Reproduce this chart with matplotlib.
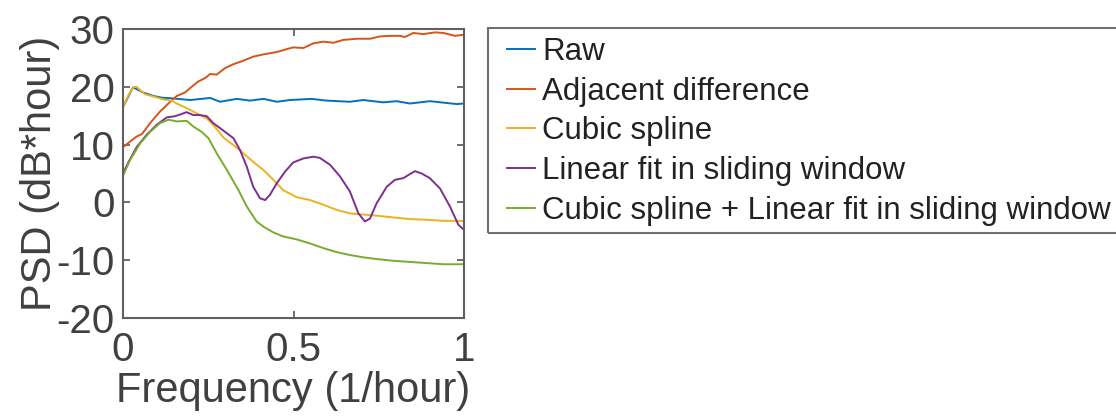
import numpy as np
import matplotlib.pyplot as plt
from matplotlib.patches import Rectangle

plt.rcParams['font.family'] = ['Liberation Sans', 'DejaVu Sans']
plt.rcParams['axes.unicode_minus'] = False

# PSD curves, frequency in 1/hour, PSD in dB*hour
raw_f = [0.0, 0.03, 0.06, 0.09, 0.115, 0.143, 0.197, 0.256, 0.285, 0.334, 0.373, 0.412,
         0.451, 0.490, 0.553, 0.597, 0.665, 0.704, 0.763, 0.802, 0.841, 0.90, 0.978, 1.0]
raw_psd = [16.4, 19.9, 19.0, 18.4, 18.1, 18.0, 17.7, 18.06, 17.4, 17.9, 17.6, 17.9,
           17.4, 17.7, 17.9, 17.6, 17.4, 17.7, 17.3, 17.5, 17.1, 17.5, 17.0, 17.1]

adj_f = [0.0, 0.021, 0.041, 0.056, 0.080, 0.109, 0.139, 0.158, 0.182, 0.202, 0.221, 0.241,
         0.256, 0.275, 0.299, 0.324, 0.353, 0.382, 0.412, 0.451, 0.480, 0.499, 0.529,
         0.558, 0.587, 0.617, 0.646, 0.685, 0.724, 0.753, 0.782, 0.812, 0.826, 0.851,
         0.880, 0.914, 0.939, 0.973, 1.0]
adj_psd = [9.5, 10.5, 11.4, 11.8, 13.7, 15.7, 17.4, 18.4, 19.0, 20.0, 20.9, 21.5,
           22.2, 22.1, 23.2, 23.9, 24.5, 25.2, 25.6, 26.0, 26.5, 26.8, 26.7,
           27.5, 27.8, 27.6, 28.1, 28.3, 28.3, 28.7, 28.8, 28.8, 28.6, 29.3,
           29.1, 29.4, 29.3, 28.8, 29.0]

spline_f = [0.0, 0.017, 0.031, 0.041, 0.051, 0.065, 0.090, 0.119, 0.143, 0.158, 0.187,
            0.217, 0.246, 0.265, 0.295, 0.324, 0.353, 0.382, 0.412, 0.441, 0.470, 0.509,
            0.548, 0.587, 0.626, 0.665, 0.704, 0.743, 0.792, 0.841, 0.890, 0.939, 1.0]
spline_psd = [16.4, 18.6, 19.9, 20.0, 19.4, 18.7, 18.3, 17.8, 17.6, 17.1, 16.3,
              15.4, 14.5, 13.4, 11.2, 9.9, 8.5, 7.0, 5.6, 3.9, 2.1, 0.9,
              0.4, -0.4, -1.3, -1.9, -2.1, -2.3, -2.6, -2.9, -3.0, -3.2, -3.2]

linfit_f = [0.0, 0.017, 0.041, 0.070, 0.099, 0.129, 0.153, 0.168, 0.187, 0.207, 0.226,
            0.246, 0.265, 0.295, 0.324, 0.343, 0.363, 0.382, 0.402, 0.417, 0.431, 0.451,
            0.475, 0.499, 0.529, 0.558, 0.577, 0.607, 0.636, 0.665, 0.690, 0.709, 0.724,
            0.743, 0.773, 0.797, 0.822, 0.841, 0.856, 0.875, 0.899, 0.929, 0.958, 0.983, 1.0]
linfit_psd = [4.9, 7.0, 9.6, 11.7, 13.4, 14.7, 14.9, 15.2, 15.6, 15.1, 15.1,
              14.9, 13.7, 12.4, 11.1, 9.1, 6.2, 2.7, 0.7, 0.4, 1.3, 3.3,
              5.3, 6.9, 7.6, 7.9, 7.7, 6.5, 4.5, 1.9, -1.9, -3.3, -2.8,
              -0.2, 2.7, 3.9, 4.2, 4.9, 5.4, 5.0, 4.2, 2.4, -0.7, -3.9, -4.8]

combo_f = [0.0, 0.021, 0.051, 0.080, 0.109, 0.134, 0.158, 0.187, 0.207, 0.231, 0.251,
           0.275, 0.305, 0.339, 0.363, 0.392, 0.412, 0.441, 0.470, 0.509, 0.548, 0.587,
           0.626, 0.665, 0.704, 0.743, 0.792, 0.841, 0.890, 0.939, 1.0]
combo_psd = [4.5, 7.3, 10.2, 12.2, 13.7, 14.3, 14.0, 14.1, 13.1, 12.2, 11.1,
             8.5, 5.6, 2.1, -0.7, -3.3, -4.2, -5.2, -5.9, -6.4, -7.1, -7.9,
             -8.6, -9.1, -9.5, -9.8, -10.1, -10.3, -10.5, -10.7, -10.7]

labels = ['Raw', 'Adjacent difference', 'Cubic spline', 'Linear fit in sliding window',
          'Cubic spline + Linear fit in sliding window']
colors = ['#0072BD', '#D95319', '#EDB120', '#7E2F8E', '#77AC30']

W, H = 1116, 419
fig = plt.figure(figsize=(W / 100, H / 100), dpi=100)
ax = fig.add_axes([0.110, 0.241, 0.306, 0.690])

series = [(raw_f, raw_psd), (adj_f, adj_psd), (spline_f, spline_psd),
          (linfit_f, linfit_psd), (combo_f, combo_psd)]
for (f, p), lab, c in zip(series, labels, colors):
    ax.plot(f, p, color=c, lw=1.4, label=lab)

ax.set_xlim(0, 1)
ax.set_ylim(-20, 30)
ax.set_xticks([0, 0.5, 1])
ax.set_xticklabels(['0', '0.5', '1'])
ax.set_yticks([-20, -10, 0, 10, 20, 30])
ax.tick_params(direction='in', top=True, right=True, length=5, width=1.2,
               color='#555555', labelsize=29, labelcolor='#404040')
ax.tick_params(axis='x', pad=9)
ax.tick_params(axis='y', pad=6)
for s in ax.spines.values():
    s.set_color('#606060')
    s.set_linewidth(1.5)
ax.set_xlabel('Frequency (1/hour)', fontsize=30, color='#404040', labelpad=2)
ax.set_ylabel('PSD (dB*hour)', fontsize=30, color='#404040', labelpad=-3)

# legend box runs past the right edge of the figure
fig.patches.append(Rectangle((488 / W, 1 - 233 / H), 700 / W, 205 / H,
                             transform=fig.transFigure, fill=False,
                             edgecolor='#707070', linewidth=1.5))
leg = ax.legend(loc='upper left', bbox_to_anchor=(507 / W, 1 - 37 / H),
                bbox_transform=fig.transFigure, fontsize=22.5, frameon=False,
                handlelength=0.9, handletextpad=0.22,
                labelspacing=0.31, borderpad=0, borderaxespad=0)
for t in leg.get_texts():
    t.set_color('#222222')

fig.savefig('out.png', dpi=100)
